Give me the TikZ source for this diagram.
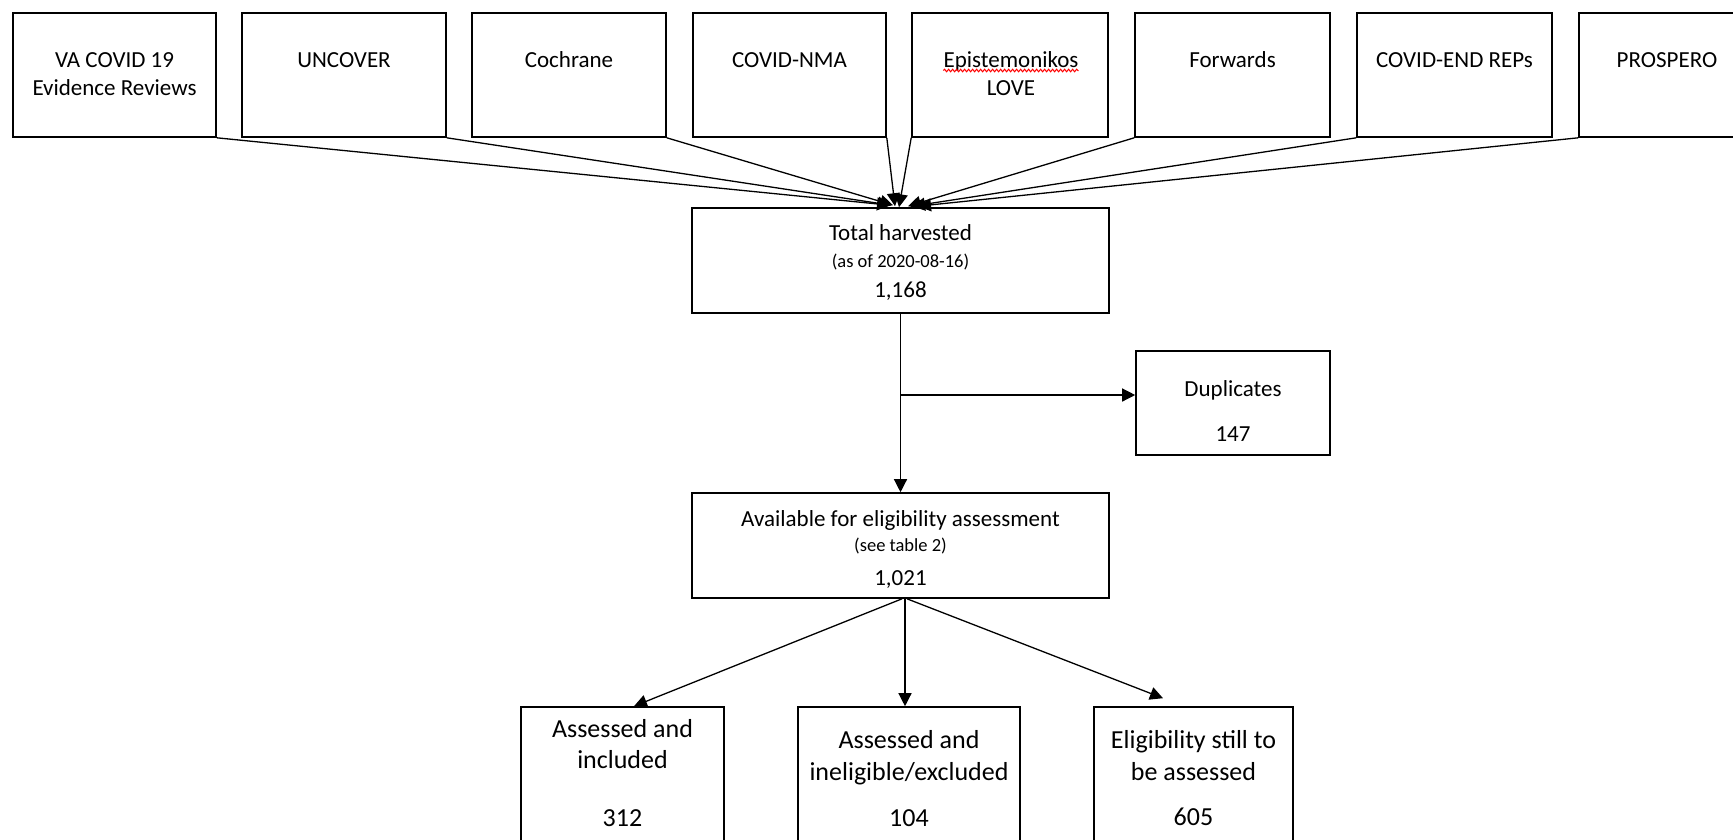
\documentclass[tikz,border=0pt]{standalone}
\usepackage{fontspec}
\setmainfont{Carlito}
\usetikzlibrary{arrows.meta,decorations.pathmorphing}
\begin{document}
\begin{tikzpicture}[x=1pt,y=-1pt,
  box/.style={draw=black, line width=1.6pt, rectangle, inner sep=0pt},
  conn/.style={line width=1.3pt, -{Triangle[length=13pt,width=13pt]}},
  tA/.style={anchor=base, inner sep=0pt, font=\fontsize{23}{28}\selectfont},
  tS/.style={anchor=base, inner sep=0pt, font=\fontsize{18.5}{22}\selectfont},
  tB/.style={anchor=base, inner sep=0pt, font=\fontsize{26}{31}\selectfont}]
\useasboundingbox (0,0) rectangle (1733,839);
\clip (0,0) rectangle (1733,839);
\fill[white] (0,0) rectangle (1733,839);

% top source boxes
\node[box, minimum width=203pt, minimum height=124pt] (va)   at (114.5,75) {};
\node[box, minimum width=204pt, minimum height=124pt] (unc)  at (344,75) {};
\node[box, minimum width=194pt, minimum height=124pt] (coch) at (569,75) {};
\node[box, minimum width=193pt, minimum height=124pt] (nma)  at (789.5,75) {};
\node[box, minimum width=196pt, minimum height=124pt] (epi)  at (1010,75) {};
\node[box, minimum width=195pt, minimum height=124pt] (fwd)  at (1232.5,75) {};
\node[box, minimum width=195pt, minimum height=124pt] (cend) at (1454.5,75) {};
\node[box, minimum width=196pt, minimum height=124pt] (pros) at (1677,75) {};

\node[tA] (vaA) at (114.5,67) {VA COVID 19};
\node[tA] (vaB) at (114.5,95.5) {Evidence Reviews};
\node[tA] (uncA) at (344,67) {UNCOVER};
\node[tA] (cochA) at (569,67) {Cochrane};
\node[tA] (nmaA) at (789.5,67) {COVID-NMA};
\node[tA] (epiA) at (1011,67) {Epistemonikos};
\node[tA] (epiB) at (1011,95.5) {LOVE};
\node[tA] (fwdA) at (1232.5,67) {Forwards};
\node[tA] (cendA) at (1454.5,67) {COVID-END REPs};
\node[tA] (prosA) at (1667,67) {PROSPERO};
\draw[red, line width=1pt, decorate, decoration={snake, amplitude=1.3pt, segment length=4pt}]
  ([yshift=-3.5pt]epiA.base west) -- ([yshift=-3.5pt]epiA.base east);

% main flow boxes
\node[box, minimum width=417pt, minimum height=105pt] (total) at (900.5,260.5) {};
\node[tA] (totA) at (900.5,240) {Total harvested};
\node[tS] (totB) at (900.5,267) {(as of 2020-08-16)};
\node[tA] (totC) at (900.5,297) {1,168};

\node[box, minimum width=194pt, minimum height=104pt] (dup) at (1233,403) {};
\node[tA] (dupA) at (1233,396.5) {Duplicates};
\node[tA] (dupB) at (1233,441) {147};

\node[box, minimum width=417pt, minimum height=105pt] (avail) at (900.5,545.5) {};
\node[tA] (avA) at (900.5,526) {Available for eligibility assessment};
\node[tS] (avB) at (900.5,551) {(see table 2)};
\node[tA] (avC) at (900.5,585) {1,021};

% bottom boxes (run off the lower edge)
\node[box, minimum width=203pt, minimum height=173pt] (b1) at (622.5,793.5) {};
\node[box, minimum width=222pt, minimum height=173pt] (b2) at (909,793.5) {};
\node[box, minimum width=199pt, minimum height=173pt] (b3) at (1193.5,793.5) {};
\node[tB] (b1A) at (622.5,737) {Assessed and};
\node[tB] (b1B) at (622.5,768) {included};
\node[tB] (b1C) at (622.5,826) {312};
\node[tB] (b2A) at (909,748) {Assessed and};
\node[tB] (b2B) at (909,780) {ineligible/excluded};
\node[tB] (b2C) at (909,826) {104};
\node[tB] (b3A) at (1193.5,748) {Eligibility still to};
\node[tB] (b3B) at (1193.5,780) {be assessed};
\node[tB] (b3C) at (1193.5,825) {605};

% connectors from sources
\draw[conn] (va.south east)   -- ([xshift=-10.5pt,yshift=2pt]total.north);
\draw[conn] (unc.south east)  -- ([xshift=-9.5pt,yshift=2pt]total.north);
\draw[conn] (coch.south east) -- ([xshift=-7.5pt,yshift=2pt]total.north);
\draw[conn] (nma.south east)  -- ([xshift=-5.5pt,yshift=1pt]total.north);
\draw[conn] (epi.south west)  -- ([xshift=-1.5pt,yshift=0pt]total.north);
\draw[conn] (fwd.south west)  -- ([xshift=7.5pt,yshift=1pt]total.north);
\draw[conn] (cend.south west) -- ([xshift=11.5pt,yshift=1pt]total.north);
\draw[conn] (pros.south west) -- ([xshift=17.5pt,yshift=1pt]total.north);

% main flow
\coordinate (br) at (900.5,395);
\draw[conn] (total.south) -- (avail.north);
\draw[conn] (br) -- (br -| dup.west);

\draw[conn] ([xshift=1.5pt]avail.south) -- ([xshift=11.5pt]b1.north);
\draw[conn] ([xshift=4.5pt]avail.south) -- ([xshift=-4pt]b2.north);
\draw[conn] ([xshift=6.5pt]avail.south) -- ([xshift=-30.5pt,yshift=8pt]b3.north);
\end{tikzpicture}
\end{document}
